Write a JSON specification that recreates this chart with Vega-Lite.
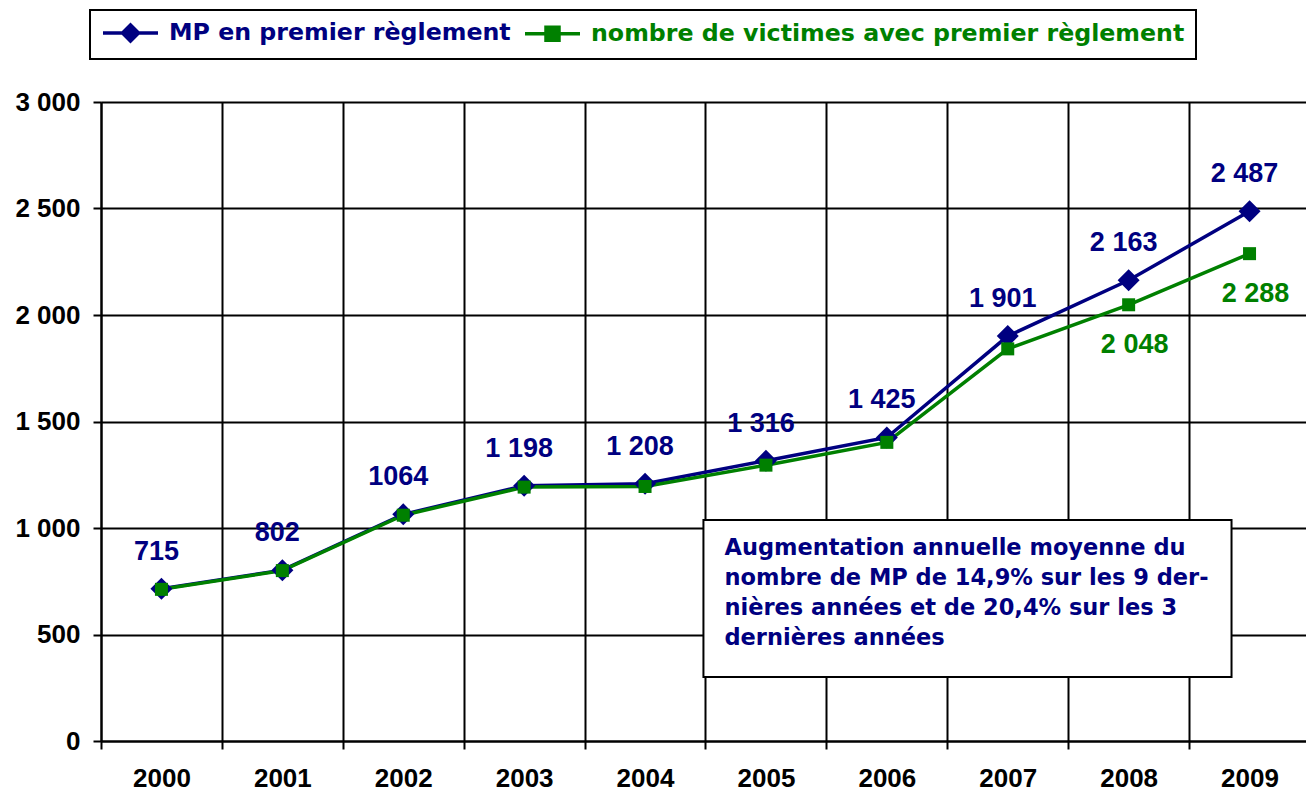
{
  "$schema": "https://vega.github.io/schema/vega-lite/v6.json",
  "width": 1205,
  "height": 639,
  "autosize": {"type": "none"},
  "padding": {"left": 101, "top": 102, "right": 0, "bottom": 53},
  "background": "white",
  "config": {"view": {"stroke": null}, "font": "Liberation Sans"},
  "data": {
    "values": [
      {"year": 2000, "series": "MP en premier règlement", "value": 715, "label": "715"},
      {"year": 2001, "series": "MP en premier règlement", "value": 802, "label": "802"},
      {"year": 2002, "series": "MP en premier règlement", "value": 1064, "label": "1064"},
      {"year": 2003, "series": "MP en premier règlement", "value": 1198, "label": "1 198"},
      {"year": 2004, "series": "MP en premier règlement", "value": 1208, "label": "1 208"},
      {"year": 2005, "series": "MP en premier règlement", "value": 1316, "label": "1 316"},
      {"year": 2006, "series": "MP en premier règlement", "value": 1425, "label": "1 425"},
      {"year": 2007, "series": "MP en premier règlement", "value": 1901, "label": "1 901"},
      {"year": 2008, "series": "MP en premier règlement", "value": 2163, "label": "2 163"},
      {"year": 2009, "series": "MP en premier règlement", "value": 2487, "label": "2 487"},
      {"year": 2000, "series": "nombre de victimes avec premier règlement", "value": 712, "label": ""},
      {"year": 2001, "series": "nombre de victimes avec premier règlement", "value": 800, "label": ""},
      {"year": 2002, "series": "nombre de victimes avec premier règlement", "value": 1060, "label": ""},
      {"year": 2003, "series": "nombre de victimes avec premier règlement", "value": 1192, "label": ""},
      {"year": 2004, "series": "nombre de victimes avec premier règlement", "value": 1195, "label": ""},
      {"year": 2005, "series": "nombre de victimes avec premier règlement", "value": 1295, "label": ""},
      {"year": 2006, "series": "nombre de victimes avec premier règlement", "value": 1402, "label": ""},
      {"year": 2007, "series": "nombre de victimes avec premier règlement", "value": 1841, "label": ""},
      {"year": 2008, "series": "nombre de victimes avec premier règlement", "value": 2048, "label": "2 048"},
      {"year": 2009, "series": "nombre de victimes avec premier règlement", "value": 2288, "label": "2 288"}
    ]
  },
  "encoding": {
    "x": {
      "field": "year",
      "type": "quantitative",
      "scale": {"domain": [1999.5, 2009.467], "nice": false, "zero": false},
      "axis": {
        "title": null,
        "values": [1999.5, 2000, 2000.5, 2001, 2001.5, 2002, 2002.5, 2003, 2003.5, 2004, 2004.5, 2005, 2005.5, 2006, 2006.5, 2007, 2007.5, 2008, 2008.5, 2009],
        "grid": true,
        "gridColor": "black",
        "gridWidth": 2,
        "gridOpacity": {"condition": {"test": "datum.value % 1 !== 0", "value": 1}, "value": 0},
        "tickOpacity": {"condition": {"test": "datum.value % 1 !== 0", "value": 1}, "value": 0},
        "tickColor": "black",
        "tickWidth": 2,
        "tickSize": 8,
        "domainColor": "black",
        "domainWidth": 2,
        "labelExpr": "datum.value % 1 === 0 ? format(datum.value, 'd') : ''",
        "labelFont": "Liberation Sans",
        "labelFontWeight": "bold",
        "labelFontSize": 26,
        "labelColor": "black",
        "labelPadding": 16,
        "labelOverlap": false,
        "labelFlush": false
      }
    },
    "y": {
      "field": "value",
      "type": "quantitative",
      "scale": {"domain": [0, 3000], "nice": false},
      "axis": {
        "title": null,
        "values": [0, 500, 1000, 1500, 2000, 2500, 3000],
        "grid": true,
        "gridColor": "black",
        "gridWidth": 2,
        "gridOpacity": 1,
        "tickColor": "black",
        "tickWidth": 2,
        "tickSize": 8,
        "domainColor": "black",
        "domainWidth": 2,
        "labelExpr": "replace(format(datum.value, ','), ',', ' ')",
        "labelFont": "Liberation Sans",
        "labelFontWeight": "bold",
        "labelFontSize": 26,
        "labelColor": "black",
        "labelPadding": 13
      }
    }
  },
  "layer": [
    {
      "mark": {"type": "line", "strokeWidth": 3.5},
      "encoding": {
        "color": {
          "field": "series",
          "type": "nominal",
          "sort": null,
          "scale": {"domain": ["MP en premier règlement", "nombre de victimes avec premier règlement"], "range": ["#000080", "#008000"]},
          "legend": {
            "title": null,
            "orient": "none",
            "legendX": -11,
            "legendY": -92,
            "direction": "horizontal",
            "symbolType": "M-1,0L4.5,0M1.75,-0.8L2.55,0L1.75,0.8L0.95,0Z",
            "symbolSize": 400,
            "symbolStrokeWidth": 3.5,
            "labelFont": "DejaVu Sans",
            "labelFontWeight": "bold",
            "labelFontSize": 23.7,
            "labelLimit": 0,
            "labelOffset": 44,
            "columnPadding": 7,
            "padding": 11,
            "strokeColor": "black",
            "fillColor": "white",
            "encode": {
              "symbols": {
                "update": {
                  "shape": {"signal": "datum.index === 0 ? 'M-1,0L4.5,0M1.75,-0.8L2.55,0L1.75,0.8L0.95,0Z' : 'M-1,0L4.5,0M1.1,-0.65L2.4,-0.65L2.4,0.65L1.1,0.65Z'"},
                  "fill": {"scale": "color", "field": "value"},
                  "stroke": {"scale": "color", "field": "value"}
                }
              },
              "labels": {
                "update": {"fill": {"scale": "color", "field": "value"}}
              },
              "legend": {
                "update": {"strokeWidth": {"value": 2}}
              }
            }
          }
        }
      }
    },
    {
      "transform": [{"filter": "datum.series === 'MP en premier règlement'"}],
      "mark": {"type": "point", "shape": "diamond", "filled": true, "opacity": 1, "size": 484, "color": "#000080"}
    },
    {
      "transform": [{"filter": "datum.series !== 'MP en premier règlement'"}],
      "mark": {"type": "point", "shape": "square", "filled": true, "opacity": 1, "size": 169, "color": "#008000"}
    },
    {
      "transform": [{"filter": "datum.series === 'MP en premier règlement'"}],
      "mark": {"type": "text", "font": "Liberation Sans", "fontWeight": "bold", "fontSize": 27, "color": "#000080", "dx": -5, "dy": -37, "baseline": "middle", "align": "center"},
      "encoding": {"text": {"field": "label", "type": "nominal"}}
    },
    {
      "transform": [{"filter": "datum.series !== 'MP en premier règlement' && datum.label !== ''"}],
      "mark": {"type": "text", "font": "Liberation Sans", "fontWeight": "bold", "fontSize": 27, "color": "#008000", "dx": 6, "dy": 40, "baseline": "middle", "align": "center"},
      "encoding": {"text": {"field": "label", "type": "nominal"}}
    },
    {
      "data": {"values": [{"x1": 2004.483, "x2": 2008.851, "y1": 1038, "y2": 300.6}]},
      "mark": {"type": "rect", "fill": "white", "stroke": "black", "strokeWidth": 2},
      "encoding": {
        "x": {"field": "x1", "type": "quantitative"},
        "x2": {"field": "x2"},
        "y": {"field": "y1", "type": "quantitative"},
        "y2": {"field": "y2"}
      }
    },
    {
      "data": {"values": [{"tx": 2004.657, "ty": 874, "note": ["Augmentation annuelle moyenne du", "nombre de MP de 14,9% sur les 9 der-", "nières années et de 20,4% sur les 3", "dernières années"]}]},
      "mark": {"type": "text", "font": "DejaVu Sans", "fontWeight": "bold", "fontSize": 22.5, "color": "#000080", "align": "left", "baseline": "alphabetic", "lineHeight": 30},
      "encoding": {
        "x": {"field": "tx", "type": "quantitative"},
        "y": {"field": "ty", "type": "quantitative"},
        "text": {"field": "note", "type": "nominal"}
      }
    }
  ]
}
